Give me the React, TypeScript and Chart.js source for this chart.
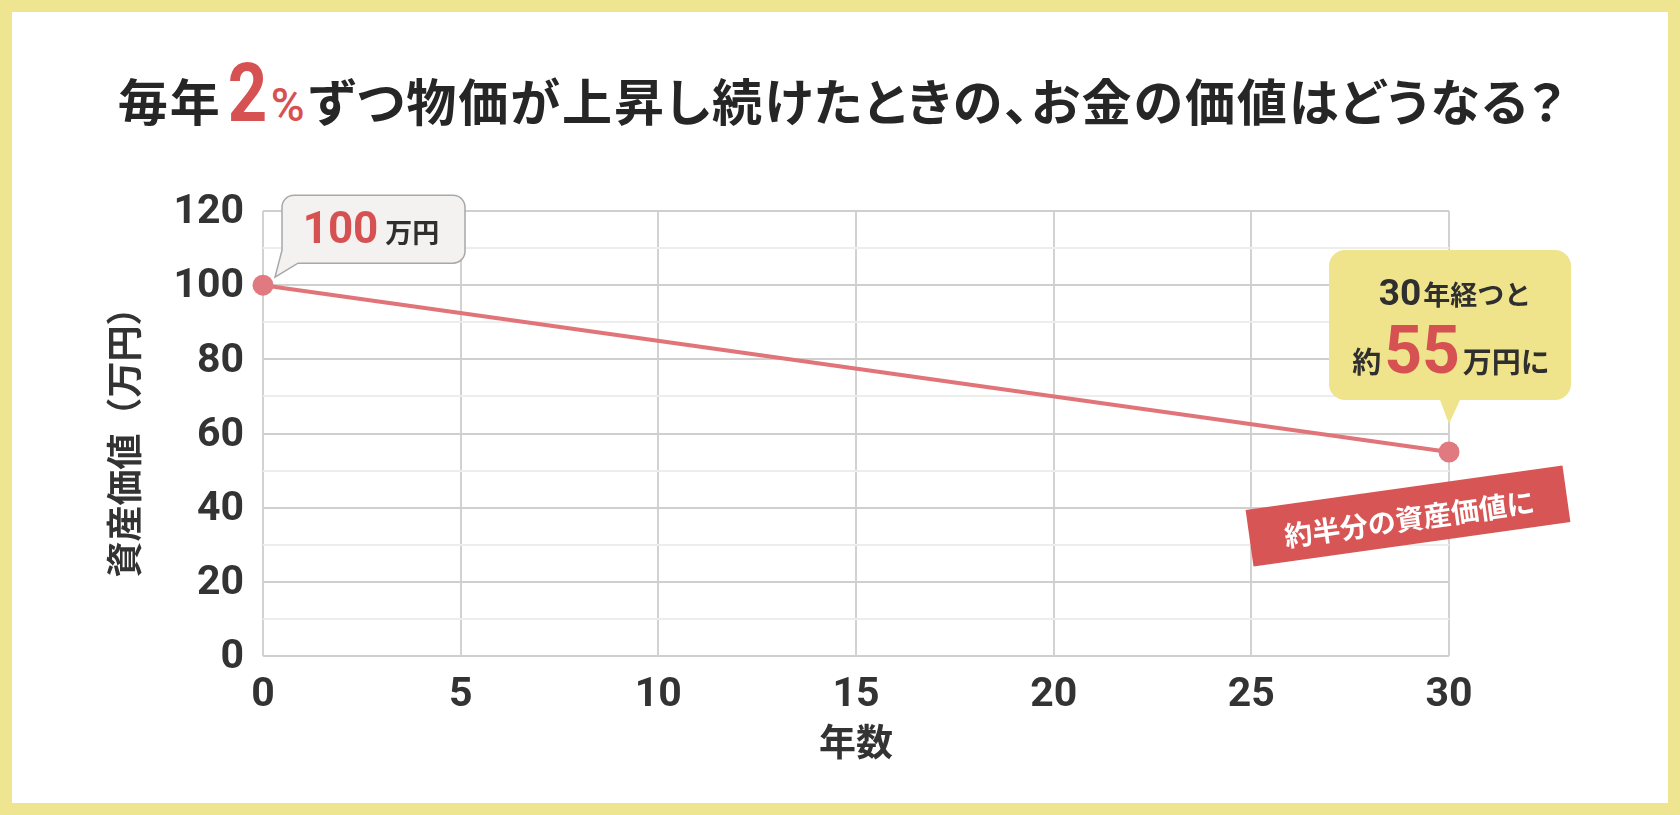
import React, { useEffect, useRef } from 'react';
import { Chart, registerables } from 'chart.js';

Chart.register(...registerables);

// données du graphique
const years = [0, 30];
const assetValues = [100, 55];
const xTicks = [0, 5, 10, 15, 20, 25, 30];
const yTicks = [0, 20, 40, 60, 80, 100, 120];
const yMinorStep = 10;

const titleBefore = '毎年';
const titleRate = '2';
const titleAfter = 'ずつ物価が上昇し続けたときの、お金の価値はどうなる？';
const yTitle = '資産価値（万円）';
const xTitle = '年数';
const startLabel = ['100', '万円'];
const endLine1 = ['30', '年経つと'];
const endLine2 = ['約', '55', '万円に'];
const ribbonText = '約半分の資産価値に';

const RED = '#d65252';
const DARK = '#2f2f2f';
const JP = '"Noto Sans CJK JP", "Noto Sans", sans-serif';
const NUM = 'Roboto, "Noto Sans CJK JP", sans-serif';

// écrit des morceaux de texte à la suite, centrés autour de cx
function drawRuns(ctx: CanvasRenderingContext2D, runs: { t: string; font: string; color: string; gap: number }[], cx: number, baseline: number) {
    let total = 0;
    const widths = runs.map((r) => {
        ctx.font = r.font;
        const w = ctx.measureText(r.t).width;
        total += w + r.gap;
        return w;
    });
    let x = cx - total / 2;
    ctx.textAlign = 'left';
    ctx.textBaseline = 'alphabetic';
    runs.forEach((r, i) => {
        ctx.font = r.font;
        ctx.fillStyle = r.color;
        ctx.fillText(r.t, x, baseline);
        x += widths[i] + r.gap;
    });
}

const annotations = {
    id: 'annotations',
    afterDatasetsDraw(chart: Chart) {
        const ctx = chart.ctx;
        const pts = chart.getDatasetMeta(0).data;
        const p0 = pts[0];
        const p1 = pts[pts.length - 1];
        ctx.save();

        // bulle "100万円"
        {
            const px = p0.x, py = p0.y;
            const L = px + 19, R = px + 202, T = py - 90, B = py - 22, r = 12;
            ctx.beginPath();
            ctx.moveTo(L + r, T);
            ctx.lineTo(R - r, T);
            ctx.arcTo(R, T, R, T + r, r);
            ctx.lineTo(R, B - r);
            ctx.arcTo(R, B, R - r, B, r);
            ctx.lineTo(px + 35, B);
            ctx.lineTo(px + 12, py - 8);
            ctx.lineTo(L, py - 35);
            ctx.lineTo(L, T + r);
            ctx.arcTo(L, T, L + r, T, r);
            ctx.closePath();
            ctx.fillStyle = '#f4f2f1';
            ctx.fill();
            ctx.strokeStyle = '#a8a8a8';
            ctx.lineWidth = 1.5;
            ctx.stroke();
            drawRuns(ctx, [
                { t: startLabel[0], font: `bold 44px ${NUM}`, color: RED, gap: 7 },
                { t: startLabel[1], font: `bold 27px ${JP}`, color: DARK, gap: 0 },
            ], px + 108, py - 42);
        }

        // bulle jaune "30年経つと 約55万円に"
        {
            const qx = p1.x, qy = p1.y;
            const L = qx - 120, R = qx + 122, T = qy - 202, B = qy - 52, r = 16;
            ctx.beginPath();
            ctx.moveTo(L + r, T);
            ctx.lineTo(R - r, T);
            ctx.arcTo(R, T, R, T + r, r);
            ctx.lineTo(R, B - r);
            ctx.arcTo(R, B, R - r, B, r);
            ctx.lineTo(qx + 11, B);
            ctx.lineTo(qx, qy - 28);
            ctx.lineTo(qx - 9, B);
            ctx.lineTo(L + r, B);
            ctx.arcTo(L, B, L, B - r, r);
            ctx.lineTo(L, T + r);
            ctx.arcTo(L, T, L + r, T, r);
            ctx.closePath();
            ctx.fillStyle = '#efe48b';
            ctx.fill();
            drawRuns(ctx, [
                { t: endLine1[0], font: `bold 37px ${NUM}`, color: DARK, gap: 2 },
                { t: endLine1[1], font: `bold 27px ${JP}`, color: DARK, gap: 0 },
            ], qx + 6, qy - 147);
            drawRuns(ctx, [
                { t: endLine2[0], font: `bold 29px ${JP}`, color: DARK, gap: 3 },
                { t: endLine2[1], font: `bold 66px ${NUM}`, color: RED, gap: 3 },
                { t: endLine2[2], font: `bold 29px ${JP}`, color: DARK, gap: 0 },
            ], qx + 2, qy - 79);

            // bandeau rouge
            ctx.translate(qx - 41, qy + 64);
            ctx.rotate((-8 * Math.PI) / 180);
            ctx.fillStyle = '#d75555';
            ctx.fillRect(-160, -28.5, 320, 57);
            ctx.fillStyle = '#ffffff';
            ctx.font = `bold 28px ${JP}`;
            ctx.textAlign = 'center';
            ctx.textBaseline = 'middle';
            ctx.fillText(ribbonText, 1, 3);
        }
        ctx.restore();
    },
};

const App: React.FC = () => {
    const canvasRef = useRef<HTMLCanvasElement | null>(null);
    const chartRef = useRef<Chart | null>(null);

    useEffect(() => {
        if (!canvasRef.current) return;
        if (chartRef.current) chartRef.current.destroy();

        chartRef.current = new Chart(canvasRef.current, {
            type: 'line',
            data: {
                datasets: [{
                    label: yTitle,
                    data: years.map((x, i) => ({ x, y: assetValues[i] })),
                    borderColor: '#e07479',
                    borderWidth: 4,
                    pointRadius: 10.5,
                    pointHoverRadius: 10.5,
                    pointBackgroundColor: '#e07a80',
                    pointBorderWidth: 0,
                    clip: false,
                }],
            },
            options: {
                responsive: false,
                animation: false,
                events: [],
                layout: { padding: { left: 0, right: 231, top: 211, bottom: 0 } },
                plugins: { legend: { display: false }, tooltip: { enabled: false } },
                scales: {
                    x: {
                        type: 'linear',
                        min: xTicks[0],
                        max: xTicks[xTicks.length - 1],
                        afterFit: (s: any) => { s.height = 159; },
                        border: { display: false },
                        grid: { color: '#d2d2d2', lineWidth: 2, drawTicks: false },
                        ticks: {
                            stepSize: xTicks[1] - xTicks[0],
                            padding: 15,
                            color: '#333',
                            font: { family: NUM, size: 41, weight: 'bold' },
                        },
                        title: {
                            display: true,
                            text: xTitle,
                            color: '#333',
                            font: { family: JP, size: 37, weight: 'bold' },
                            padding: { top: 0, bottom: 51 },
                        },
                    },
                    y: {
                        min: yTicks[0],
                        max: yTicks[yTicks.length - 1],
                        afterFit: (s: any) => { s.width = 263; },
                        border: { display: false },
                        grid: {
                            lineWidth: 2,
                            drawTicks: false,
                            color: (c: any) => (yTicks.includes(c.tick?.value) ? '#cfcfcf' : '#ededed'),
                        },
                        ticks: {
                            stepSize: yMinorStep,
                            autoSkip: false,
                            padding: 19,
                            labelOffset: 2,
                            color: '#333',
                            font: { family: NUM, size: 41, weight: 'bold' },
                            callback: (v: any) => (yTicks.includes(v) ? String(v) : ''),
                        },
                        title: {
                            display: true,
                            text: yTitle,
                            color: '#333',
                            font: { family: JP, size: 36, weight: 'bold' },
                            padding: { top: 103, bottom: 0 },
                        },
                    },
                },
            },
            plugins: [annotations],
        });

        return () => {
            if (chartRef.current) {
                chartRef.current.destroy();
                chartRef.current = null;
            }
        };
    }, []);

    return (
        <div style={{ position: 'fixed', left: 0, top: 0, width: 1680, height: 815, background: '#efe48f', overflow: 'hidden' }}>
            <div style={{ position: 'absolute', left: 12, top: 12, right: 12, bottom: 12, background: '#fff' }} />
            <div
                style={{
                    position: 'absolute', left: 0, right: 0, top: 63, display: 'flex', justifyContent: 'center',
                    alignItems: 'baseline', fontFamily: JP, fontWeight: 700, fontSize: 50, lineHeight: '60px',
                    color: '#262626', letterSpacing: 2, fontFeatureSettings: '"palt"', paddingLeft: 4,
                }}
            >
                <span>{titleBefore}</span>
                <span style={{ fontFamily: NUM, fontWeight: 700, fontSize: 82, color: RED, letterSpacing: 0, margin: '0 0 0 2px', display: 'inline-block', transform: 'scaleX(0.84)' }}>{titleRate}</span>
                <span style={{ fontFamily: NUM, fontWeight: 500, fontSize: 46, color: RED, letterSpacing: 0, marginRight: 4 }}>%</span>
                <span>{titleAfter}</span>
            </div>
            <canvas ref={canvasRef} width={1680} height={815} style={{ position: 'absolute', left: 0, top: 0 }} />
        </div>
    );
};

export default App;
